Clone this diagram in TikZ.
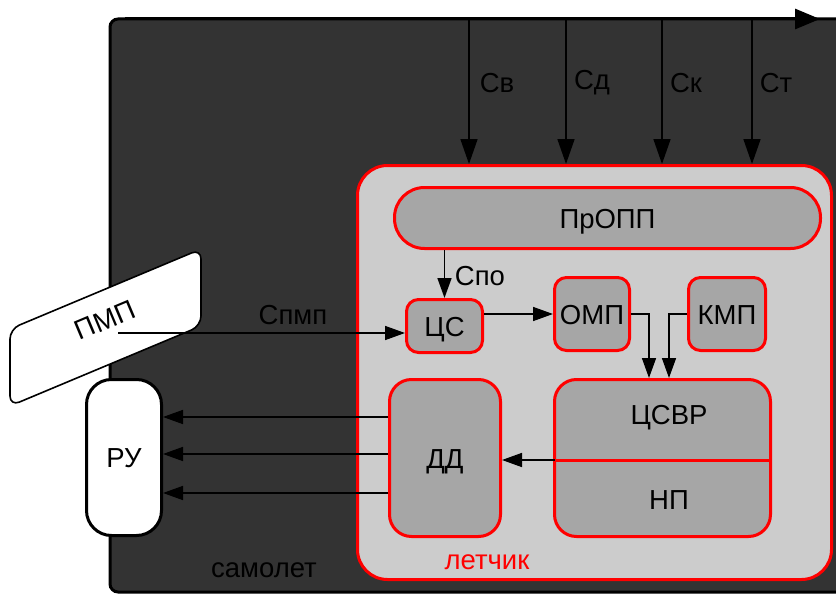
\documentclass[tikz,border=0pt]{standalone}
\usepackage{fontspec}
\setmainfont{Liberation Sans}
\usetikzlibrary{arrows.meta}
\definecolor{darkbg}{HTML}{333333}
\definecolor{ltgray}{HTML}{CCCCCC}
\definecolor{midgray}{HTML}{A6A6A6}
\definecolor{rd}{HTML}{FF0000}
\begin{document}
\begin{tikzpicture}[x=1pt,y=-1pt,
  font=\fontsize{27.5}{31}\selectfont,
  blk/.style={draw=rd, line width=3pt, fill=midgray, inner sep=0pt, text height=20pt, text depth=0pt},
  conn/.style={line width=1.6pt, -{Triangle[length=20pt,width=14pt]}},
  bigconn/.style={line width=1.6pt, -{Triangle[length=25pt,width=17pt]}},
  lbl/.style={inner sep=0pt}]
\useasboundingbox (0,0) rectangle (836,594);
% aircraft area
\draw[fill=darkbg, line width=3pt, rounded corners=8pt] (870,19) -- (110,19) -- (110,592) -- (870,592) -- cycle;
\coordinate (topL) at (125,19);
\coordinate (topR) at (820,19);
\draw[line width=3pt, -{Triangle[length=25pt,width=20pt]}] (topL) -- (topR);
% pilot area
\node[draw=rd, fill=ltgray, line width=3pt, rounded corners=30pt, minimum width=474pt, minimum height=414pt, inner sep=0pt] (let) at (594.5,372.5) {};
% input signals
\coordinate (t1) at (469,19);
\coordinate (t2) at (566,19);
\coordinate (t3) at (662,19);
\coordinate (t4) at (752,19);
\draw[bigconn] (t1) -- (t1 |- let.north);
\draw[bigconn] (t2) -- (t2 |- let.north);
\draw[bigconn] (t3) -- (t3 |- let.north);
\draw[bigconn] (t4) -- (t4 |- let.north);
\node[lbl] (lsv) at (497,83) {Св};
\node[lbl] (lsd) at (592,83) {Сд};
\node[lbl] (lsk) at (686,83) {Ск};
\node[lbl] (lst) at (776,83) {Ст};
% blocks
\node[blk, rounded corners=30pt, minimum width=426pt, minimum height=61pt] (propp) at (607.5,218) {ПрОПП};
\node[blk, rounded corners=12pt, minimum width=76pt, minimum height=53pt] (cs) at (444.5,326) {ЦС};
\node[blk, rounded corners=12pt, minimum width=75pt, minimum height=73pt] (omp) at (592,314) {ОМП};
\node[blk, rounded corners=12pt, minimum width=77pt, minimum height=73pt] (kmp) at (727,314) {КМП};
\node[blk, rounded corners=22pt, minimum width=216pt, minimum height=157pt] (csvr) at (662.5,458) {};
\node[lbl] (tcsvr) at (669,418) {ЦСВР};
\node[lbl] (tnp) at (669,500) {НП};
\coordinate (dvl) at (554.5,460);
\coordinate (dvr) at (770.5,460);
\draw[rd, line width=3pt] (dvl) -- (dvr);
\node[blk, rounded corners=22pt, minimum width=111pt, minimum height=157pt] (dd) at (445,458) {ДД};
\node[draw=black, fill=white, line width=3pt, rounded corners=25pt, minimum width=75pt, minimum height=156pt, inner sep=0pt, text height=20pt, text depth=0pt] (ru) at (124,457.5) {РУ};
% PMP
\draw[fill=white, line width=1.6pt, rounded corners=10pt] (10,329) -- (201,249) -- (201,326) -- (10,406) -- cycle;
\node[lbl, rotate=22.8] (pmp) at (105,320) {ПМП};
% texts
\node[lbl] (samolet) at (264,570) {самолет};
\node[lbl, text=rd] (letchik) at (487,562) {летчик};
\node[lbl] (lspo) at (480,276) {Спо};
\node[lbl] (lspmp) at (293,315) {Спмп};
% connectors
\coordinate (spS) at (118,333);
\draw[conn] (spS) -- (spS -| cs.west);
\draw[conn] (cs.north |- propp.south) -- (cs.north);
\draw[conn] (cs.east |- omp.west) -- (omp.west);
\coordinate (c1) at (649,0);
\coordinate (c2) at (669,0);
\draw[conn] (omp.east) -| (csvr.north -| c1);
\draw[conn] (kmp.west) -| (csvr.north -| c2);
\draw[conn] (dvl) -- (dvl -| dd.east);
\coordinate (r1) at (0,417);
\coordinate (r2) at (0,454);
\coordinate (r3) at (0,493);
\draw[conn] (dd.west |- r1) -- (ru.east |- r1);
\draw[conn] (dd.west |- r2) -- (ru.east |- r2);
\draw[conn] (dd.west |- r3) -- (ru.east |- r3);
\end{tikzpicture}
\end{document}
